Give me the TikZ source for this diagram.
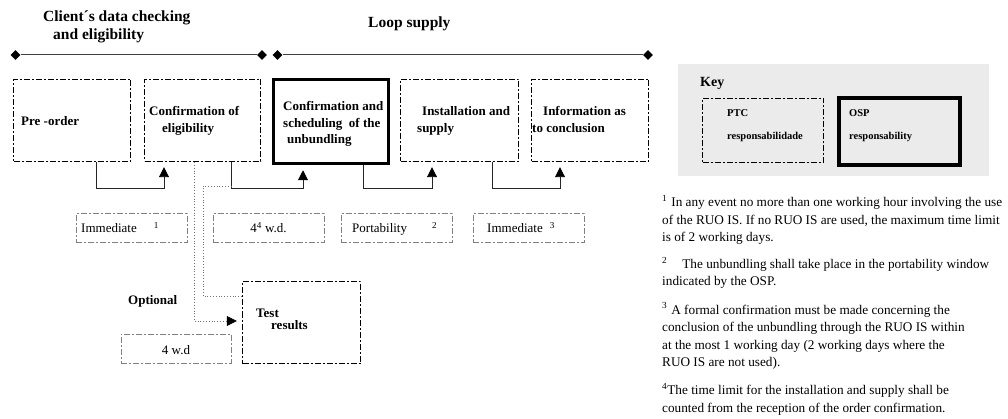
\documentclass[tikz,border=0pt]{standalone}
\usepackage{fontspec}
\setmainfont{Liberation Serif}
\usetikzlibrary{arrows.meta,shapes.geometric}
\begin{document}
\begin{tikzpicture}[x=1pt,y=-1pt,
  dd/.style={dash pattern=on 6pt off 2pt on 2pt off 2pt},
  box/.style={draw, dd, line width=1.4pt, minimum height=82pt, inner sep=0pt},
  thickbox/.style={draw, line width=3.5pt, minimum height=84pt, inner sep=0pt},
  lbl/.style={draw=black!50, dd, line width=1pt, minimum height=29pt, inner sep=0pt},
  dia/.style={diamond, fill=black, minimum width=10pt, minimum height=10pt, inner sep=0pt},
  tl/.style={line width=1pt, black!75},
  tip/.style={-{Triangle[width=10pt,length=10pt,black]}, shorten >=5pt},
  conn/.style={line width=0.9pt, black!85, tip},
  dotc/.style={line width=0.8pt, black!55, dotted},
  ttl/.style={anchor=base west, inner sep=0pt, font=\fontsize{15.5}{18}\selectfont\bfseries},
  bt/.style={anchor=base west, inner sep=0pt, align=left, font=\fontsize{13}{17}\selectfont\bfseries},
  lt/.style={anchor=base west, inner sep=0pt, font=\fontsize{13}{15}\selectfont},
  kt/.style={anchor=base west, inner sep=0pt, align=left, font=\fontsize{10.5}{23}\selectfont\bfseries},
  ft/.style={anchor=base west, inner sep=0pt, align=left, font=\fontsize{13.25}{17.5}\selectfont}
]
\useasboundingbox (0,0) rectangle (1008,419);

% titles
\node[ttl] (t1) at (43,22) {Client´s data checking};
\node[ttl] (t2) at (53,40) {and eligibility};
\node[ttl] (t3) at (368,28) {Loop supply};

% timeline
\node[dia] (d1) at (15.5,55) {};
\node[dia] (d2) at (262,55) {};
\node[dia] (d3) at (277.5,55) {};
\node[dia] (d4) at (648,55) {};
\draw[tl] (d1) -- (d2);
\draw[tl] (d3) -- (d4);

% main boxes
\node[box, minimum width=117pt] (pre) at (72,120.5) {};
\node[box, minimum width=116pt] (elig) at (202.5,120.5) {};
\node[thickbox, minimum width=115pt] (sched) at (331,121.5) {};
\node[box, minimum width=118pt] (inst) at (459.5,120.5) {};
\node[box, minimum width=117pt] (info) at (590,120.5) {};
\node[box, minimum width=118pt] (test) at (301.5,322.5) {};

% texts of the boxes (anchored at the baseline of their last line)
\node[bt] (preT) at (21,126) {Pre -order};
\node[bt] (eligT) at (149,133) {Confirmation of\\\hspace{13pt}eligibility};
\node[bt, font=\fontsize{13}{16.5}\selectfont\bfseries] (schedT) at (283,144) {Confirmation and\\scheduling\ \ of the\\\hspace{4pt}unbundling};
\node[bt] (instT) at (417,133) {\hspace{5pt}Installation and\\supply};
\node[bt] (infoT) at (532,133) {\hspace{11pt}Information as\\to conclusion};
\node[bt, font=\fontsize{13}{12.5}\selectfont\bfseries] (testT) at (256,329.5) {Test\\\hspace{15pt}results};
\node[bt] (optT) at (128,305) {Optional};

% connectors
\coordinate (p1) at (96,188);
\coordinate (p2) at (164,188);
\draw[conn] (pre.south -| p1) -- (p1) -- (p2) -- (elig.south -| p2);
\coordinate (p3) at (231,188);
\coordinate (p4) at (303,188);
\draw[conn] (elig.south -| p3) -- (p3) -- (p4) -- (sched.south -| p4);
\coordinate (p5) at (363,188);
\coordinate (p6) at (432,188);
\draw[conn] (sched.south -| p5) -- (p5) -- (p6) -- (inst.south -| p6);
\coordinate (p7) at (492,188);
\coordinate (p8) at (560,188);
\draw[conn] (inst.south -| p7) -- (p7) -- (p8) -- (info.south -| p8);

% dotted optional connectors
\coordinate (o1) at (194,321);
\draw[dotc, tip] (elig.south -| o1) -- (o1) -- (test.west |- o1);
\coordinate (o2) at (203,296);
\coordinate (o3) at (203,186);
\coordinate (o4) at (231,186);
\draw[dotc] (test.west |- o2) -- (o2) -- (o3) -- (o4);

% time labels
\node[lbl, minimum width=111pt] (imm1) at (131.5,228.5) {};
\node[lbl, minimum width=111pt] (wd4) at (268.5,228.5) {};
\node[lbl, minimum width=111pt] (port) at (396.5,228.5) {};
\node[lbl, minimum width=111pt] (imm3) at (528.5,228.5) {};
\node[lbl, minimum width=110pt] (wdb) at (176,348.5) {};

\node[lt] (imm1T) at (81,233) {Immediate\hspace{17pt}\textsuperscript{1}};
\node[lt, anchor=base] (wd4T) at (268.5,233) {4\textsuperscript{4} w.d.};
\node[lt] (portT) at (352,233) {Portability\hspace{25pt}\textsuperscript{2}};
\node[lt] (imm3T) at (487,233) {Immediate\hspace{7pt}\textsuperscript{3}};
\node[lt, anchor=base] (wdbT) at (176,354) {4 w.d};

% key
\node[fill=black!8, minimum width=311pt, minimum height=112pt, inner sep=0pt] (keybg) at (833.5,120) {};
\node[anchor=base west, inner sep=0pt, font=\fontsize{14}{16}\selectfont\bfseries] (keyT) at (700,87) {Key};
\node[draw, dd, line width=1pt, minimum width=121pt, minimum height=64pt, inner sep=0pt] (ptc) at (763,130.5) {};
\node[draw, line width=3.5pt, minimum width=121pt, minimum height=67pt, inner sep=0pt] (osp) at (899.5,131.5) {};
\node[kt] (ptcT) at (727,140) {PTC\\responsabilidade};
\node[kt] (ospT) at (849,140) {OSP\\responsability};

% footnotes (anchored at the baseline of their last line)
\node[ft] (fn1) at (662,242) {\textsuperscript{1}\hspace{4pt}In any event no more than one working hour involving the use\\of the RUO IS. If no RUO IS are used, the maximum time limit\\is of 2 working days.};
\node[ft] (fn2) at (662,286) {\textsuperscript{2}\hspace{15pt}The unbundling shall take place in the portability window\\indicated by the OSP.};
\node[ft] (fn3) at (662,366.5) {\textsuperscript{3}\hspace{4pt}A formal confirmation must be made concerning the\\conclusion of the unbundling through the RUO IS within\\at the most 1 working day (2 working days where the\\RUO IS are not used).};
\node[ft] (fn4) at (662,412) {\textsuperscript{4}The time limit for the installation and supply shall be\\counted from the reception of the order confirmation.};
\end{tikzpicture}
\end{document}
